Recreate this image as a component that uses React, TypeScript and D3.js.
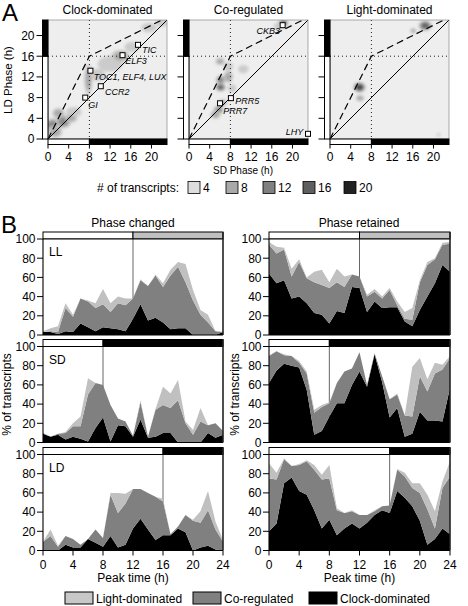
import React from 'react';
import * as d3 from 'd3';

const FONT = "'Liberation Sans', Arial, Helvetica, sans-serif";

// ---------------- Panel A data ----------------
const aTitles = ['Clock-dominated', 'Co-regulated', 'Light-dominated'];
const aTicks = [0, 4, 8, 12, 16, 20];
const legendCounts = [4, 8, 12, 16, 20];
const legendShades = ['#dedede', '#a9a9a9', '#808080', '#5f5f5f', '#222222'];
const blobShades = ['#cbcbcb', '#a8a8a8', '#868686', '#646464', '#424242'];

// density blobs: [SD phase, LD phase, spread SD, spread LD, level]
const blobsClock = [
  [1.0, 2.7, 1.8, 1.3, 3], [3.0, 3.4, 1.5, 1.3, 3], [2.0, 5.0, 1.2, 1.0, 2],
  [5.0, 5.2, 1.5, 1.0, 1], [1.4, 1.4, 1.4, 1.2, 2], [4.5, 4.0, 1.2, 0.8, 2],
  [7.8, 11.5, 0.8, 3.0, 2], [9.6, 12.4, 1.4, 1.2, 1], [12.0, 14.5, 2.4, 1.5, 1],
  [14.0, 16.0, 1.8, 1.2, 2], [16.3, 17.8, 1.5, 1.0, 1], [19.5, 21.5, 1.5, 0.9, 1],
  [22.0, 22.5, 1.2, 0.8, 1],
];
const blobsCoreg = [
  [6.0, 15.0, 0.9, 0.7, 2], [7.6, 14.0, 0.9, 0.9, 1], [7.6, 12.0, 0.9, 1.2, 2],
  [6.1, 11.4, 0.9, 0.9, 3], [6.1, 10.0, 1.0, 0.8, 4], [5.7, 5.6, 1.0, 0.8, 3],
  [5.1, 4.7, 1.0, 0.8, 2], [8.3, 9.8, 0.8, 0.8, 1], [10.5, 13.5, 1.0, 0.8, 1],
  [6.5, 7.0, 0.8, 0.7, 2], [18.2, 22.4, 1.0, 0.8, 4], [17.4, 21.8, 1.0, 0.7, 1],
];
const blobsLight = [
  [5.7, 10.0, 1.2, 1.0, 5], [5.8, 7.9, 0.8, 0.6, 2], [18.4, 21.9, 1.3, 1.0, 4],
  [16.1, 20.9, 0.6, 0.5, 2], [21.0, 0.8, 0.4, 0.3, 1],
];

const genesClock = ['TIC', 'ELF3', 'TOC1, ELF4, LUX', 'CCR2', 'GI'];
const genesClockSD = [17.4, 14.4, 8.2, 10.2, 7.2];
const genesClockLD = [18.2, 16.2, 13.2, 10.2, 8.0];
const genesCoreg = ['CKB3', 'PRR5', 'PRR7', 'LHY'];
const genesCoregSD = [18.1, 8.1, 6.0, 23.0];
const genesCoregLD = [22.0, 7.9, 6.9, 1.0];

// ---------------- Panel B data ----------------
const hours = [0, 1, 2, 3, 4, 5, 6, 7, 8, 9, 10, 11, 12, 13, 14, 15, 16, 17, 18, 19, 20, 21, 22, 23, 24];
const xTicksB = [0, 4, 8, 12, 16, 20, 24];
const yTicksB = [0, 20, 40, 60, 80, 100];
const conditions = ['LL', 'SD', 'LD'];
const lightHours = [12, 8, 16];
const columnTitles = ['Phase changed', 'Phase retained'];
const legendNames = ['Light-dominated', 'Co-regulated', 'Clock-dominated'];

// % of transcripts per peak hour (clock / co-regulated / light)
const llChangedClock = [3, 3, 1, 4, 3, 12, 8, 4, 8, 7, 6, 4, 17, 32, 15, 18, 13, 6, 7, 7, 0, 0, 0, 0, 3];
const llChangedCoreg = [0, 1, 2, 24, 16, 26, 27, 24, 24, 17, 27, 27, 21, 25, 36, 44, 37, 56, 64, 48, 36, 21, 13, 4, 0];
const llChangedLight = [1, 3, 6, 5, 2, 0, 1, 5, 16, 9, 7, 7, 0, 1, 0, 1, 4, 6, 5, 19, 11, 5, 8, 0, 0];

const llRetainedClock = [64, 54, 57, 38, 40, 33, 23, 21, 12, 25, 23, 50, 49, 24, 35, 28, 29, 29, 14, 9, 26, 40, 54, 73, 66];
const llRetainedCoreg = [30, 31, 32, 23, 36, 26, 32, 31, 37, 30, 27, 13, 12, 16, 10, 10, 18, 2, 3, 7, 29, 33, 25, 21, 29];
const llRetainedLight = [3, 7, 2, 8, 3, 1, 11, 16, 6, 14, 11, 0, 0, 2, 3, 2, 2, 4, 7, 12, 2, 3, 1, 2, 2];

const sdChangedClock = [9, 6, 8, 3, 6, 4, 1, 15, 26, 1, 18, 17, 6, 24, 5, 6, 10, 10, 0, 0, 0, 0, 10, 5, 8];
const sdChangedCoreg = [1, 0, 1, 7, 11, 13, 49, 47, 34, 38, 7, 5, 1, 18, 1, 28, 29, 26, 44, 20, 8, 22, 8, 15, 4];
const sdChangedLight = [0, 0, 0, 1, 3, 10, 17, 0, 0, 0, 0, 0, 0, 2, 0, 1, 19, 15, 21, 2, 5, 14, 0, 0, 0];

const sdRetainedClock = [62, 75, 82, 80, 78, 55, 8, 12, 27, 41, 41, 60, 74, 58, 92, 63, 26, 36, 6, 9, 32, 23, 23, 22, 57];
const sdRetainedCoreg = [28, 20, 9, 10, 5, 17, 23, 25, 14, 21, 33, 17, 20, 2, 1, 6, 19, 14, 22, 18, 37, 30, 49, 54, 31];
const sdRetainedLight = [1, 0, 1, 0, 2, 2, 3, 2, 1, 0, 0, 0, 0, 0, 0, 0, 0, 1, 1, 52, 19, 13, 11, 5, 2];

const ldChangedClock = [0, 0, 0, 6, 3, 3, 12, 8, 4, 15, 3, 6, 23, 33, 22, 11, 16, 16, 23, 19, 0, 3, 5, 1, 0];
const ldChangedCoreg = [9, 15, 4, 9, 9, 3, 0, 14, 9, 43, 36, 43, 41, 31, 38, 45, 35, 1, 2, 18, 31, 26, 37, 21, 9];
const ldChangedLight = [0, 7, 1, 0, 0, 0, 0, 0, 0, 2, 21, 10, 0, 0, 0, 0, 3, 0, 0, 0, 1, 12, 20, 8, 2];

const ldRetainedClock = [20, 28, 70, 76, 62, 58, 42, 23, 32, 16, 23, 28, 23, 29, 37, 42, 39, 62, 55, 46, 31, 6, 12, 23, 17];
const ldRetainedCoreg = [55, 46, 25, 12, 27, 35, 42, 51, 43, 26, 16, 13, 14, 8, 4, 4, 8, 22, 22, 19, 29, 37, 11, 42, 60];
const ldRetainedLight = [16, 7, 1, 0, 1, 1, 5, 5, 14, 2, 0, 1, 0, 0, 1, 0, 0, 1, 4, 5, 10, 15, 18, 7, 16];

const panelsB = [
  [[llChangedClock, llChangedCoreg, llChangedLight], [llRetainedClock, llRetainedCoreg, llRetainedLight]],
  [[sdChangedClock, sdChangedCoreg, sdChangedLight], [sdRetainedClock, sdRetainedCoreg, sdRetainedLight]],
  [[ldChangedClock, ldChangedCoreg, ldChangedLight], [ldRetainedClock, ldRetainedCoreg, ldRetainedLight]],
];

const seriesColors = { clock: '#000000', coreg: '#808080', light: '#c0c0c0' };
const legendColors = ['#c8c8c8', '#808080', '#000000'];

// ---------------- layout ----------------
const A_LEFT = [48, 189, 330];
const A_SIZE = 119;
const A_TOP = 20;
const A_BOTTOM = A_TOP + A_SIZE;
const BAR = 5.5;

const B_X = [[43, 223], [269, 450]];
const B_TOP = [239, 346.5, 454.5];
const B_H = 96;
const B_BAR = 7;

const clockLabelOff = [[4, 8, 'start'], [2.7, 9.3, 'start'], [3.3, 9.5, 'start'], [4.3, 8.8, 'start'], [3, 10.3, 'start']];
const coregLabelOff = [[-2.7, 8.7, 'end'], [4.3, 5.7, 'start'], [3.3, 10.7, 'start'], [-4.7, 1.5, 'end']];

function PanelA({ idx }: { idx: number }) {
  const left = A_LEFT[idx];
  const x = d3.scaleLinear().domain([0, 23]).range([left, left + A_SIZE]);
  const y = d3.scaleLinear().domain([0, 23]).range([A_BOTTOM, A_TOP]);
  const blobs = [blobsClock, blobsCoreg, blobsLight][idx];
  const names = idx === 0 ? genesClock : idx === 1 ? genesCoreg : [];
  const sd = idx === 0 ? genesClockSD : genesCoregSD;
  const ld = idx === 0 ? genesClockLD : genesCoregLD;
  const offs = idx === 0 ? clockLabelOff : coregLabelOff;
  const line = d3.line<[number, number]>().x(d => x(d[0])).y(d => y(d[1]));
  const clipId = `clipA${idx}`;
  return (
    <g>
      <defs>
        <clipPath id={clipId}>
          <rect x={left} y={A_TOP} width={A_SIZE} height={A_SIZE} />
        </clipPath>
      </defs>
      <text x={left + A_SIZE / 2} y={14} textAnchor="middle" fontSize={12}>{aTitles[idx]}</text>
      <rect x={left} y={A_TOP} width={A_SIZE} height={A_SIZE} fill="#eeeeee" />
      <g clipPath={`url(#${clipId})`}>
        <g filter="url(#blobBlur)">
          {blobs.map((b, i) => {
            const L = b[4];
            const out = [];
            for (let k = 1; k <= L; k++) {
              const s = 1 - ((k - 1) / L) * 0.65;
              out.push(
                <ellipse key={k} cx={x(b[0])} cy={y(b[1])}
                  rx={(x(b[2]) - x(0)) * s} ry={(y(0) - y(b[3])) * s}
                  fill={blobShades[k - 1]} />
              );
            }
            return <g key={i}>{out}</g>;
          })}
        </g>
        <line x1={x(8)} x2={x(8)} y1={A_TOP} y2={A_BOTTOM} stroke="#222" strokeWidth={1} strokeDasharray="1,3" />
        <line x1={left} x2={left + A_SIZE} y1={y(16)} y2={y(16)} stroke="#222" strokeWidth={1} strokeDasharray="1,3" />
        <path d={line([[0, 0], [23, 23]]) || ''} stroke="#000" strokeWidth={1} fill="none" />
        <path d={line([[0, 0], [8, 16], [22, 23]]) || ''} stroke="#000" strokeWidth={1.2} fill="none" strokeDasharray="7,4" />
      </g>
      <rect x={left} y={A_TOP} width={A_SIZE} height={A_SIZE} fill="none" stroke="#777" strokeWidth={0.6} />
      {/* vertical LD bar */}
      <rect x={left - BAR} y={y(16)} width={BAR} height={y(0) - y(16)} fill="#fff" stroke="#000" strokeWidth={1} />
      <rect x={left - BAR} y={y(23)} width={BAR} height={y(16) - y(23)} fill="#000" stroke="#000" strokeWidth={1} />
      {/* horizontal SD bar */}
      <rect x={x(0)} y={A_BOTTOM} width={x(8) - x(0)} height={BAR} fill="#fff" stroke="#000" strokeWidth={1} />
      <rect x={x(8)} y={A_BOTTOM} width={x(23) - x(8)} height={BAR} fill="#000" stroke="#000" strokeWidth={1} />
      {aTicks.map(t => (
        <g key={'y' + t}>
          <line x1={left - BAR - 6} x2={left - BAR} y1={y(t)} y2={y(t)} stroke="#000" strokeWidth={1} />
          {idx === 0 && <text x={left - BAR - 8} y={y(t) + 4.3} textAnchor="end" fontSize={12}>{t}</text>}
        </g>
      ))}
      {aTicks.map(t => (
        <g key={'x' + t}>
          <line x1={x(t)} x2={x(t)} y1={A_BOTTOM + BAR} y2={A_BOTTOM + BAR + 4} stroke="#000" strokeWidth={1} />
          <text x={x(t)} y={161} textAnchor="middle" fontSize={12}>{t}</text>
        </g>
      ))}
      {names.map((n, i) => {
        const cx = x(sd[i]);
        const cy = y(ld[i]);
        const o = offs[i];
        return (
          <g key={n}>
            <rect x={cx - 2.5} y={cy - 2.5} width={5} height={5} fill="#fff" stroke="#000" strokeWidth={1} />
            <text x={cx + (o[0] as number)} y={cy + (o[1] as number)} textAnchor={o[2] as any}
              fontSize={9} fontStyle="italic">{n}</text>
          </g>
        );
      })}
    </g>
  );
}

function PanelB({ row, col }: { row: number; col: number }) {
  const [x0, x1] = B_X[col];
  const top = B_TOP[row];
  const x = d3.scaleLinear().domain([0, 24]).range([x0, x1]);
  const y = d3.scaleLinear().domain([0, 100]).range([top + B_H, top]);
  const [clock, coreg, light] = panelsB[row][col];
  const rows = hours.map((h, i) => ({ h, clock: clock[i], coreg: coreg[i], light: light[i] }));
  const series = d3.stack<any>().keys(['clock', 'coreg', 'light'])(rows);
  const area = d3.area<any>().x(d => x(d.data.h)).y0(d => y(d[0])).y1(d => y(d[1]));
  const lh = lightHours[row];
  const darkFill = row === 0 ? '#c0c0c0' : '#000';
  return (
    <g>
      {/* light/dark bar */}
      <rect x={x(0)} y={top - B_BAR} width={x(lh) - x(0)} height={B_BAR} fill="#fff" stroke="#000" strokeWidth={1} />
      <rect x={x(lh)} y={top - B_BAR} width={x(24) - x(lh)} height={B_BAR} fill={darkFill} stroke="#000" strokeWidth={1} />
      <rect x={x0} y={top} width={x1 - x0} height={B_H} fill="#fff" />
      <line x1={x(lh)} x2={x(lh)} y1={top} y2={top + B_H} stroke="#666" strokeWidth={1} />
      {series.map(s => (
        <path key={s.key} d={area(s as any) || ''} fill={(seriesColors as any)[s.key]} />
      ))}
      <line x1={x0} x2={x0} y1={top} y2={top + B_H} stroke="#000" strokeWidth={1.1} />
      <line x1={x0} x2={x1} y1={top + B_H} y2={top + B_H} stroke="#000" strokeWidth={1.1} />
      <line x1={x0} x2={x1} y1={top} y2={top} stroke="#000" strokeWidth={1.1} />
      <line x1={x1} x2={x1} y1={top - B_BAR} y2={top + B_H} stroke="#222" strokeWidth={1.6} />
      {yTicksB.map(t => (
        <g key={t}>
          <line x1={x0 - 6} x2={x0} y1={y(t)} y2={y(t)} stroke="#000" strokeWidth={1} />
          <text x={x0 - 7.5} y={y(t) + 4.3} textAnchor="end" fontSize={12}>{t}</text>
        </g>
      ))}
      {col === 0 && <text x={x0 + 6} y={top + 17} fontSize={12}>{conditions[row]}</text>}
      {row === 2 && xTicksB.map(t => (
        <g key={'x' + t}>
          <line x1={x(t)} x2={x(t)} y1={top + B_H} y2={top + B_H + 5} stroke="#000" strokeWidth={1} />
          <text x={x(t)} y={569} textAnchor="middle" fontSize={12}>{t}</text>
        </g>
      ))}
    </g>
  );
}

export default function App() {
  const legendBoxX = [188, 226, 263, 303, 344];
  const bLegendX = [65, 193, 309];
  return (
    <svg width={468} height={606} viewBox="0 0 468 606"
      style={{ position: 'absolute', left: 0, top: 0, background: '#fff' }}
      fontFamily={FONT} fill="#000">
      <defs>
        <filter id="blobBlur" x="-20%" y="-20%" width="140%" height="140%">
          <feGaussianBlur stdDeviation={1.6} />
        </filter>
      </defs>
      <rect x={0} y={0} width={468} height={606} fill="#fff" />
      <text x={2} y={20.5} fontSize={24}>A</text>
      <text x={12} y={80} fontSize={11.5} textAnchor="middle" transform="rotate(-90 12 80)">LD Phase (h)</text>
      {[0, 1, 2].map(i => <PanelA key={i} idx={i} />)}
      <text x={243} y={174} textAnchor="middle" fontSize={10}>SD Phase (h)</text>
      <text x={179} y={191.5} textAnchor="end" fontSize={12}># of transcripts:</text>
      {legendCounts.map((c, i) => (
        <g key={c}>
          <rect x={legendBoxX[i]} y={181.5} width={12} height={12} fill={legendShades[i]} stroke="#000" strokeWidth={0.8} />
          <text x={legendBoxX[i] + 15} y={191.5} fontSize={12}>{c}</text>
        </g>
      ))}

      <text x={1} y={233} fontSize={24}>B</text>
      <text x={133} y={227} textAnchor="middle" fontSize={12}>{columnTitles[0]}</text>
      <text x={359} y={227} textAnchor="middle" fontSize={12}>{columnTitles[1]}</text>
      {[0, 1, 2].map(r => [0, 1].map(c => <PanelB key={`${r}-${c}`} row={r} col={c} />))}
      <text x={10.5} y={394.5} textAnchor="middle" fontSize={12} transform="rotate(-90 10.5 394.5)">% of transcripts</text>
      <text x={238.5} y={394.5} textAnchor="middle" fontSize={12} transform="rotate(-90 238.5 394.5)">% of transcripts</text>
      <text x={133} y={582} textAnchor="middle" fontSize={12}>Peak time (h)</text>
      <text x={359.5} y={582} textAnchor="middle" fontSize={12}>Peak time (h)</text>
      {legendNames.map((n, i) => (
        <g key={n}>
          <rect x={bLegendX[i]} y={592} width={28} height={12} fill={legendColors[i]} stroke="#000" strokeWidth={1} />
          <text x={bLegendX[i] + 31} y={602.5} fontSize={12}>{n}</text>
        </g>
      ))}
    </svg>
  );
}
